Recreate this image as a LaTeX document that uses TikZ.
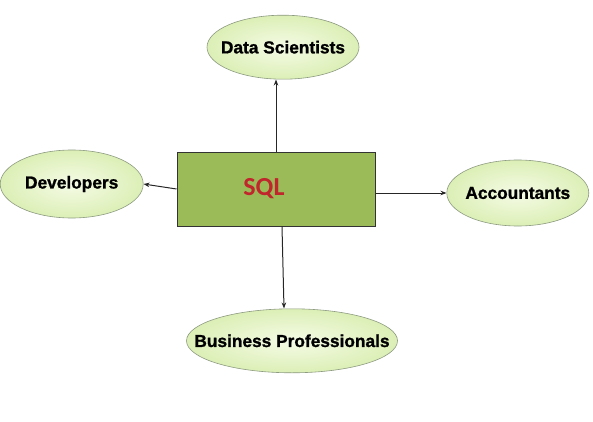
\documentclass[tikz,border=0pt]{standalone}
\usepackage{fontspec}
\setmainfont{Liberation Sans}
\newfontfamily\sqlfont{Carlito}
\newfontfamily\groupfont{Liberation Sans}[BoldFont={Liberation Sans Bold},BoldFeatures={FakeBold=1.2}]
\usetikzlibrary{shapes.geometric,positioning,arrows.meta}
\definecolor{boxgreen}{HTML}{9BBB59}
\definecolor{sqlred}{HTML}{C0262C}
\definecolor{ovalin}{HTML}{F5FBE6}
\definecolor{ovalout}{HTML}{DCEFB6}
\definecolor{ovalline}{HTML}{8C9A80}
\tikzset{
  x=1pt,y=1pt,
  >={Stealth[length=6pt,width=4.5pt]},
  sqlbox/.style={rectangle,draw=black!80,line width=1pt,fill=boxgreen,
    minimum width=198pt,minimum height=74pt,inner sep=0pt},
  group/.style={ellipse,draw=ovalline,line width=0.6pt,inner sep=0pt,
    inner color=ovalin,outer color=ovalout,
    font=\groupfont\fontsize{17.3}{19}\selectfont\bfseries},
  link/.style={->,line width=1pt,draw=black!85}
}
\begin{document}
\begin{tikzpicture}
  \useasboundingbox (0,0) rectangle (593,421);

  \node [sqlbox] (sql) at (276,232)
    {\sqlfont\fontsize{26}{28}\selectfont\bfseries\color{sqlred}\kern-24pt SQL};

  \node [group,minimum width=152pt,minimum height=64pt,above=72pt of sql,xshift=7pt] (ds)
    {\makebox[0pt]{Data Scientists}};
  \node [group,minimum width=143pt,minimum height=68pt,left=33pt of sql,yshift=5pt] (dev)
    {\makebox[0pt]{Developers}};
  \node [group,minimum width=142pt,minimum height=66pt,right=71pt of sql,yshift=-4pt] (acc)
    {\makebox[0pt]{Accountants}};
  \node [group,minimum width=211pt,minimum height=64pt,below=82pt of sql,xshift=16pt] (bp)
    {\makebox[0pt]{Business Professionals}};

  \draw [link] (sql.north) -- (sql.north |- ds.south);
  \draw [link] (sql.west) -- (dev.east);
  \draw [link] (sql.east |- acc.west) -- (acc.west);
  \draw [link] ([xshift=6pt]sql.south) -- ([xshift=-8pt]bp.north);
\end{tikzpicture}
\end{document}
